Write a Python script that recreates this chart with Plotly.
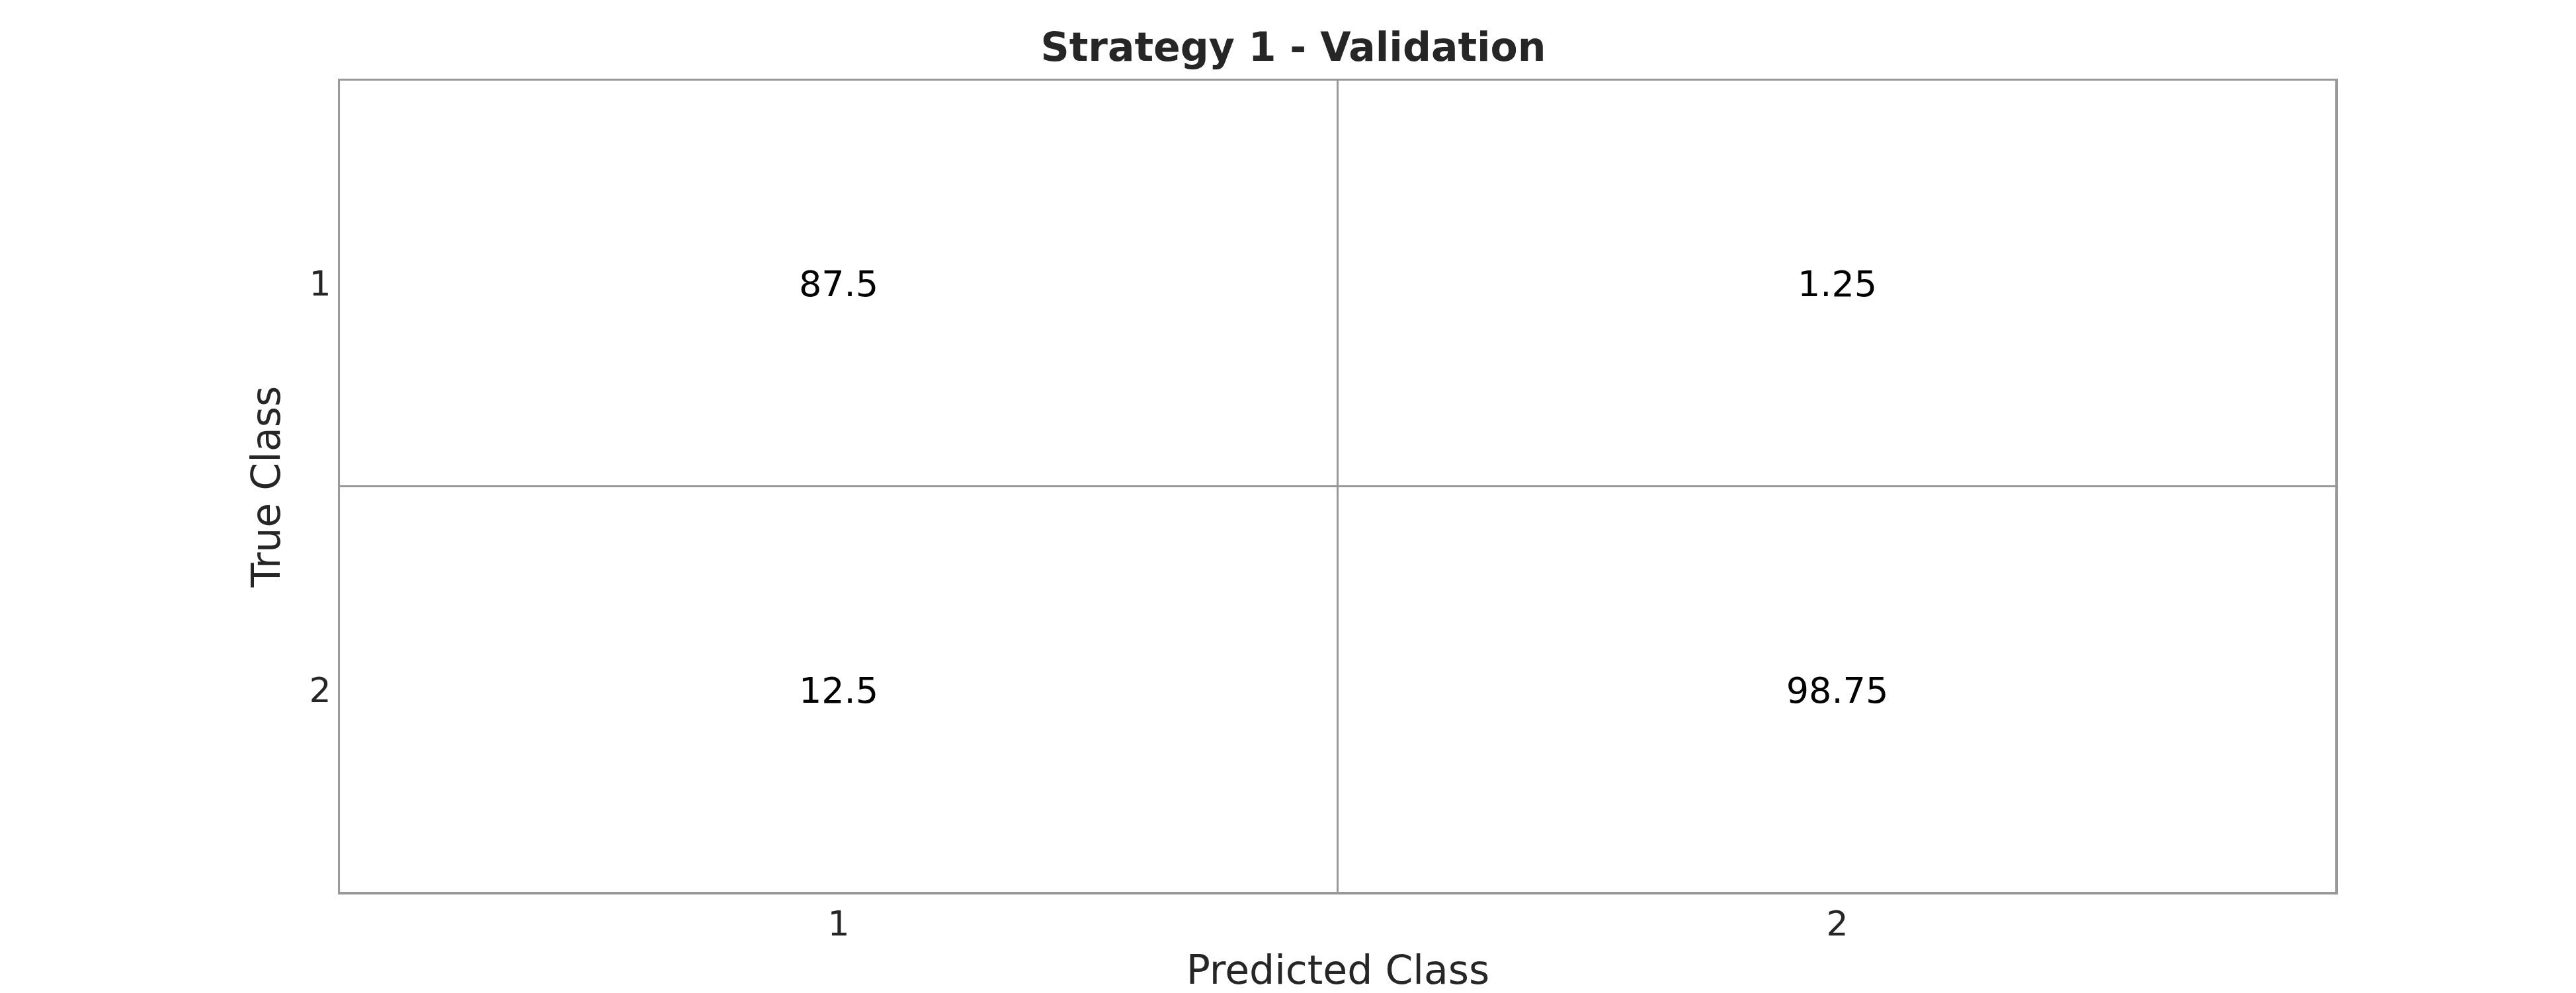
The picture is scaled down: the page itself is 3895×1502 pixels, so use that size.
import plotly.graph_objects as go

pred_labels = ["1", "2"]
true_labels = ["1", "2"]
values = [[87.5, 1.25],
          [12.5, 98.75]]
text = [["87.5", "1.25"], ["12.5", "98.75"]]

fig = go.Figure(go.Heatmap(
    z=values, x=[0, 1], y=[0, 1], text=text, texttemplate="%{text}",
    textfont=dict(size=54, color="black", family="DejaVu Sans"),
    colorscale=[[0, "white"], [1, "white"]], showscale=False,
    xgap=3, ygap=3, hoverinfo="skip"))

ax = dict(showline=True, linecolor="#999999", linewidth=2, mirror=True,
          showgrid=False, zeroline=False, ticks="",
          tickfont=dict(size=52, color="#262626"))
fig.update_layout(
    width=3895, height=1502,
    paper_bgcolor="white", plot_bgcolor="#999999",
    font=dict(family="DejaVu Sans", color="#262626"),
    margin=dict(l=505, r=370, t=113, b=159),
    title=dict(text="<b>Strategy 1 - Validation</b>", x=0.5, xanchor="center",
               y=0.958, yanchor="middle", font=dict(size=60, color="#262626")),
    xaxis=dict(**ax, range=[-0.5, 1.5], tickvals=[0, 1], ticktext=pred_labels,
               title=dict(text="Predicted Class", font=dict(size=60), standoff=20)),
    yaxis=dict(**ax, range=[1.5, -0.5], tickvals=[0, 1], ticktext=true_labels,
               title=dict(text="True Class", font=dict(size=60), standoff=25)),
)
fig.write_html("out.html")
